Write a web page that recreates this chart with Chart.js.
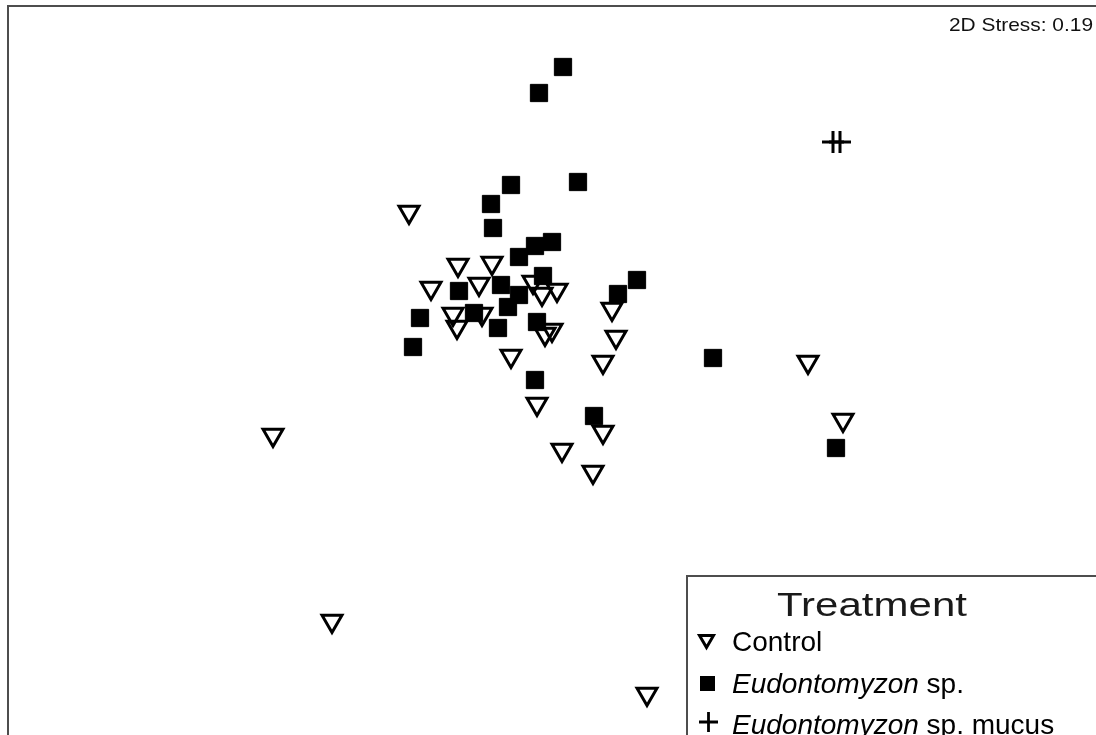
<!DOCTYPE html>
<html>
<head>
<meta charset="utf-8">
<title>NMDS ordination by treatment</title>
<script src="https://cdn.jsdelivr.net/npm/chart.js@4.4.1/dist/chart.umd.min.js"></script>
<style>
  html, body { margin: 0; padding: 0; background: #ffffff; }
  #wrap { width: 1096px; height: 735px; position: relative; }
</style>
</head>
<body>
<div id="wrap"><canvas id="nmds" width="1096" height="735"></canvas></div>
<script>
// NMDS scores (axis 1, axis 2) per sample, grouped by treatment
const controlX = [-0.695, -0.45, -0.28, -0.585, -0.345, -0.075, -0.03, 0.045, -0.475, -0.33,
                  -0.455, -0.015, 0.02, 0.32, 0.34, -0.185, 0.275, 1.30, -0.055, 1.475,
                  0.275, 0.07, -1.375, 0.225, -1.08, 0.495];
const controlY = [0.775, 0.51, 0.52, 0.395, 0.415, 0.425, 0.365, 0.385, 0.265, 0.265,
                  0.2, 0.165, 0.185, 0.29, 0.15, 0.055, 0.025, 0.025, -0.185, -0.265,
                  -0.325, -0.415, -0.34, -0.525, -1.27, -1.635];

const eudoX = [0.075, -0.045, 0.15, -0.185, -0.285, -0.275, 0.02, -0.065, -0.145, -0.025,
               -0.235, 0.445, 0.35, -0.445, -0.145, -0.2, -0.37, -0.64, -0.25, -0.055,
               -0.675, -0.065, 0.23, 0.825, 1.44];
const eudoY = [1.5, 1.37, 0.925, 0.91, 0.815, 0.695, 0.625, 0.605, 0.55, 0.455,
               0.41, 0.435, 0.365, 0.38, 0.36, 0.3, 0.27, 0.245, 0.195, 0.225,
               0.1, -0.065, -0.245, 0.045, -0.405];

const mucusX = [1.425, 1.46];
const mucusY = [1.125, 1.125];

const treatmentNames = ['Control', 'Eudontomyzon sp.', 'Eudontomyzon sp. mucus'];
const stressLabel = '2D Stress: 0.19';
const legendTitle = 'Treatment';

const toPoints = (xs, ys) => xs.map((x, i) => ({ x: x, y: ys[i] }));

const FONT = '"Liberation Sans", Arial, Helvetica, sans-serif';

// Draws text stretched horizontally to a given width
function fillStretched(ctx, text, x, y, width) {
  const natural = ctx.measureText(text).width;
  ctx.save();
  ctx.translate(x, y);
  ctx.scale(width / natural, 1);
  ctx.fillText(text, 0, 0);
  ctx.restore();
}

// Draws the outer frame, the stress annotation and the treatment key
const decorations = {
  id: 'decorations',
  afterDraw(chart) {
    const ctx = chart.ctx;
    ctx.save();

    // outer frame (open towards right and bottom edge)
    ctx.strokeStyle = '#4d4d4d';
    ctx.lineWidth = 2;
    ctx.beginPath();
    ctx.moveTo(8, 740);
    ctx.lineTo(8, 6);
    ctx.lineTo(1100, 6);
    ctx.stroke();

    // stress value
    ctx.fillStyle = '#111111';
    ctx.font = '19px ' + FONT;
    ctx.textBaseline = 'alphabetic';
    ctx.textAlign = 'left';
    fillStretched(ctx, stressLabel, 949, 31, 144);

    // key box
    ctx.strokeStyle = '#4d4d4d';
    ctx.lineWidth = 2;
    ctx.beginPath();
    ctx.moveTo(687, 740);
    ctx.lineTo(687, 576);
    ctx.lineTo(1100, 576);
    ctx.stroke();

    // key title
    ctx.fillStyle = '#1a1a1a';
    ctx.font = '33px ' + FONT;
    fillStretched(ctx, legendTitle, 777, 616, 190);

    // key entries
    ctx.fillStyle = '#000000';
    const rowY = [651, 693, 734];
    const textX = 732;

    // Control: open inverted triangle
    ctx.strokeStyle = '#000000';
    ctx.lineWidth = 3;
    ctx.lineJoin = 'miter';
    ctx.beginPath();
    ctx.moveTo(699.5, 635.5);
    ctx.lineTo(713.5, 635.5);
    ctx.lineTo(706.5, 647.5);
    ctx.closePath();
    ctx.stroke();
    ctx.font = '28px ' + FONT;
    ctx.fillText(treatmentNames[0], textX, rowY[0]);

    // Eudontomyzon sp.: filled square
    ctx.fillRect(700, 676, 15, 15);
    ctx.font = 'italic 28px ' + FONT;
    ctx.fillText('Eudontomyzon', textX, rowY[1]);
    let w = ctx.measureText('Eudontomyzon').width;
    ctx.font = '28px ' + FONT;
    ctx.fillText(' sp.', textX + w, rowY[1]);

    // Eudontomyzon sp. mucus: plus
    ctx.lineWidth = 2.8;
    ctx.beginPath();
    ctx.moveTo(699, 722);
    ctx.lineTo(718, 722);
    ctx.moveTo(708.5, 712);
    ctx.lineTo(708.5, 732);
    ctx.stroke();
    ctx.font = 'italic 28px ' + FONT;
    ctx.fillText('Eudontomyzon', textX, rowY[2]);
    w = ctx.measureText('Eudontomyzon').width;
    ctx.font = '28px ' + FONT;
    ctx.fillText(' sp. mucus', textX + w, rowY[2]);

    ctx.restore();
  }
};

new Chart(document.getElementById('nmds'), {
  type: 'scatter',
  data: {
    datasets: [
      {
        label: treatmentNames[0],
        data: toPoints(controlX, controlY),
        pointStyle: 'triangle',
        rotation: 180,
        radius: 11.5,
        borderWidth: 3,
        borderColor: '#000000',
        backgroundColor: 'rgba(0,0,0,0)'
      },
      {
        label: treatmentNames[1],
        data: toPoints(eudoX, eudoY),
        pointStyle: 'rect',
        radius: 12.2,
        borderWidth: 1,
        borderColor: '#000000',
        backgroundColor: '#000000'
      },
      {
        label: treatmentNames[2],
        data: toPoints(mucusX, mucusY),
        pointStyle: 'cross',
        radius: 11,
        borderWidth: 3,
        borderColor: '#000000',
        backgroundColor: '#000000'
      }
    ]
  },
  options: {
    responsive: false,
    animation: false,
    devicePixelRatio: 1,
    layout: { padding: 0, autoPadding: false },
    clip: false,
    plugins: {
      legend: { display: false },
      tooltip: { enabled: false }
    },
    scales: {
      x: { type: 'linear', display: false, min: -2.74, max: 2.74 },
      y: { type: 'linear', display: false, min: -1.84, max: 1.835 }
    }
  },
  plugins: [decorations]
});
</script>
</body>
</html>
